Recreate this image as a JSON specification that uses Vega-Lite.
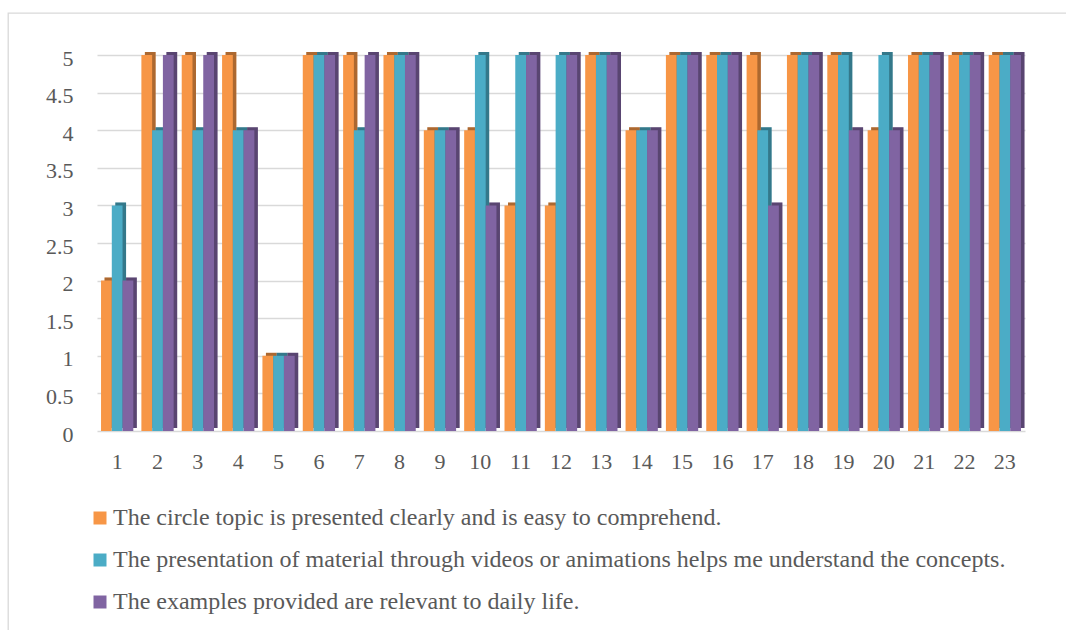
{
  "$schema": "https://vega.github.io/schema/vega-lite/v6.json",
  "width": 1062,
  "height": 621,
  "padding": {"left": 8, "top": 13, "right": -4, "bottom": -4},
  "autosize": {"type": "none"},
  "background": "white",
  "config": {
    "view": {"stroke": "#D9D9D9", "strokeWidth": 1.3}
  },
  "data": {
    "values": [
      {"item": "1", "series": "The circle topic is presented clearly and is easy to comprehend.", "score": 2},
      {"item": "1", "series": "The presentation of material through videos or animations helps me understand the concepts.", "score": 3},
      {"item": "1", "series": "The examples provided are relevant to daily life.", "score": 2},
      {"item": "2", "series": "The circle topic is presented clearly and is easy to comprehend.", "score": 5},
      {"item": "2", "series": "The presentation of material through videos or animations helps me understand the concepts.", "score": 4},
      {"item": "2", "series": "The examples provided are relevant to daily life.", "score": 5},
      {"item": "3", "series": "The circle topic is presented clearly and is easy to comprehend.", "score": 5},
      {"item": "3", "series": "The presentation of material through videos or animations helps me understand the concepts.", "score": 4},
      {"item": "3", "series": "The examples provided are relevant to daily life.", "score": 5},
      {"item": "4", "series": "The circle topic is presented clearly and is easy to comprehend.", "score": 5},
      {"item": "4", "series": "The presentation of material through videos or animations helps me understand the concepts.", "score": 4},
      {"item": "4", "series": "The examples provided are relevant to daily life.", "score": 4},
      {"item": "5", "series": "The circle topic is presented clearly and is easy to comprehend.", "score": 1},
      {"item": "5", "series": "The presentation of material through videos or animations helps me understand the concepts.", "score": 1},
      {"item": "5", "series": "The examples provided are relevant to daily life.", "score": 1},
      {"item": "6", "series": "The circle topic is presented clearly and is easy to comprehend.", "score": 5},
      {"item": "6", "series": "The presentation of material through videos or animations helps me understand the concepts.", "score": 5},
      {"item": "6", "series": "The examples provided are relevant to daily life.", "score": 5},
      {"item": "7", "series": "The circle topic is presented clearly and is easy to comprehend.", "score": 5},
      {"item": "7", "series": "The presentation of material through videos or animations helps me understand the concepts.", "score": 4},
      {"item": "7", "series": "The examples provided are relevant to daily life.", "score": 5},
      {"item": "8", "series": "The circle topic is presented clearly and is easy to comprehend.", "score": 5},
      {"item": "8", "series": "The presentation of material through videos or animations helps me understand the concepts.", "score": 5},
      {"item": "8", "series": "The examples provided are relevant to daily life.", "score": 5},
      {"item": "9", "series": "The circle topic is presented clearly and is easy to comprehend.", "score": 4},
      {"item": "9", "series": "The presentation of material through videos or animations helps me understand the concepts.", "score": 4},
      {"item": "9", "series": "The examples provided are relevant to daily life.", "score": 4},
      {"item": "10", "series": "The circle topic is presented clearly and is easy to comprehend.", "score": 4},
      {"item": "10", "series": "The presentation of material through videos or animations helps me understand the concepts.", "score": 5},
      {"item": "10", "series": "The examples provided are relevant to daily life.", "score": 3},
      {"item": "11", "series": "The circle topic is presented clearly and is easy to comprehend.", "score": 3},
      {"item": "11", "series": "The presentation of material through videos or animations helps me understand the concepts.", "score": 5},
      {"item": "11", "series": "The examples provided are relevant to daily life.", "score": 5},
      {"item": "12", "series": "The circle topic is presented clearly and is easy to comprehend.", "score": 3},
      {"item": "12", "series": "The presentation of material through videos or animations helps me understand the concepts.", "score": 5},
      {"item": "12", "series": "The examples provided are relevant to daily life.", "score": 5},
      {"item": "13", "series": "The circle topic is presented clearly and is easy to comprehend.", "score": 5},
      {"item": "13", "series": "The presentation of material through videos or animations helps me understand the concepts.", "score": 5},
      {"item": "13", "series": "The examples provided are relevant to daily life.", "score": 5},
      {"item": "14", "series": "The circle topic is presented clearly and is easy to comprehend.", "score": 4},
      {"item": "14", "series": "The presentation of material through videos or animations helps me understand the concepts.", "score": 4},
      {"item": "14", "series": "The examples provided are relevant to daily life.", "score": 4},
      {"item": "15", "series": "The circle topic is presented clearly and is easy to comprehend.", "score": 5},
      {"item": "15", "series": "The presentation of material through videos or animations helps me understand the concepts.", "score": 5},
      {"item": "15", "series": "The examples provided are relevant to daily life.", "score": 5},
      {"item": "16", "series": "The circle topic is presented clearly and is easy to comprehend.", "score": 5},
      {"item": "16", "series": "The presentation of material through videos or animations helps me understand the concepts.", "score": 5},
      {"item": "16", "series": "The examples provided are relevant to daily life.", "score": 5},
      {"item": "17", "series": "The circle topic is presented clearly and is easy to comprehend.", "score": 5},
      {"item": "17", "series": "The presentation of material through videos or animations helps me understand the concepts.", "score": 4},
      {"item": "17", "series": "The examples provided are relevant to daily life.", "score": 3},
      {"item": "18", "series": "The circle topic is presented clearly and is easy to comprehend.", "score": 5},
      {"item": "18", "series": "The presentation of material through videos or animations helps me understand the concepts.", "score": 5},
      {"item": "18", "series": "The examples provided are relevant to daily life.", "score": 5},
      {"item": "19", "series": "The circle topic is presented clearly and is easy to comprehend.", "score": 5},
      {"item": "19", "series": "The presentation of material through videos or animations helps me understand the concepts.", "score": 5},
      {"item": "19", "series": "The examples provided are relevant to daily life.", "score": 4},
      {"item": "20", "series": "The circle topic is presented clearly and is easy to comprehend.", "score": 4},
      {"item": "20", "series": "The presentation of material through videos or animations helps me understand the concepts.", "score": 5},
      {"item": "20", "series": "The examples provided are relevant to daily life.", "score": 4},
      {"item": "21", "series": "The circle topic is presented clearly and is easy to comprehend.", "score": 5},
      {"item": "21", "series": "The presentation of material through videos or animations helps me understand the concepts.", "score": 5},
      {"item": "21", "series": "The examples provided are relevant to daily life.", "score": 5},
      {"item": "22", "series": "The circle topic is presented clearly and is easy to comprehend.", "score": 5},
      {"item": "22", "series": "The presentation of material through videos or animations helps me understand the concepts.", "score": 5},
      {"item": "22", "series": "The examples provided are relevant to daily life.", "score": 5},
      {"item": "23", "series": "The circle topic is presented clearly and is easy to comprehend.", "score": 5},
      {"item": "23", "series": "The presentation of material through videos or animations helps me understand the concepts.", "score": 5},
      {"item": "23", "series": "The examples provided are relevant to daily life.", "score": 5}
    ]
  },
  "encoding": {
    "x": {
      "field": "item",
      "type": "nominal",
      "sort": null,
      "title": null,
      "scale": {"range": [89, 1017], "paddingInner": 0.2, "paddingOuter": 0.1},
      "axis": {
        "labelAngle": 0,
        "labelFont": "Liberation Serif",
        "labelColor": "#595959",
        "labelFontSize": 22,
        "domain": false,
        "ticks": false,
        "tickSize": 0,
        "labelPadding": 3,
        "offset": -186,
        "grid": false
      }
    },
    "y": {
      "field": "score",
      "type": "quantitative",
      "title": null,
      "scale": {"domain": [0, 5], "range": [418, 42], "nice": false, "zero": true},
      "axis": {
        "values": [0, 0.5, 1, 1.5, 2, 2.5, 3, 3.5, 4, 4.5, 5],
        "format": "~g",
        "labelFont": "Liberation Serif",
        "labelColor": "#595959",
        "labelFontSize": 22,
        "labelOffset": 3,
        "domain": false,
        "ticks": false,
        "tickSize": 0,
        "labelPadding": 6,
        "offset": -71,
        "grid": true,
        "gridColor": "#D9D9D9",
        "gridWidth": 1.5
      }
    },
    "color": {
      "field": "series",
      "type": "nominal",
      "title": null,
      "scale": {
        "domain": [
          "The circle topic is presented clearly and is easy to comprehend.",
          "The presentation of material through videos or animations helps me understand the concepts.",
          "The examples provided are relevant to daily life."
        ],
        "range": ["#F79646", "#4BACC6", "#8064A2"]
      },
      "legend": {
        "orient": "none",
        "legendX": 80,
        "legendY": 493,
        "direction": "vertical",
        "symbolType": "square",
        "symbolSize": 169,
        "symbolStrokeWidth": 0,
        "labelFont": "Liberation Serif",
        "labelColor": "#595959",
        "labelFontSize": 24,
        "labelLimit": 1200,
        "labelOffset": 1,
        "rowPadding": 18
      }
    }
  },
  "layer": [
    {
      "mark": {"type": "bar", "yOffset": -3, "y2Offset": -3},
      "encoding": {
        "xOffset": {
          "field": "series",
          "type": "nominal",
          "sort": [
            "The circle topic is presented clearly and is easy to comprehend.",
            "The presentation of material through videos or animations helps me understand the concepts.",
            "The examples provided are relevant to daily life."
          ],
          "scale": {"range": [3.5, 35.8], "paddingInner": 0, "paddingOuter": 0}
        }
      }
    },
    {
      "mark": {"type": "bar", "yOffset": -3, "y2Offset": -3, "opacity": 0.3},
      "encoding": {
        "color": {"value": "black"},
        "xOffset": {
          "field": "series",
          "type": "nominal",
          "sort": [
            "The circle topic is presented clearly and is easy to comprehend.",
            "The presentation of material through videos or animations helps me understand the concepts.",
            "The examples provided are relevant to daily life."
          ],
          "scale": {"range": [3.5, 35.8], "paddingInner": 0, "paddingOuter": 0}
        }
      }
    },
    {
      "layer": [
        {
          "mark": {"type": "bar"},
          "encoding": {
            "xOffset": {
              "field": "series",
              "type": "nominal",
              "sort": [
                "The circle topic is presented clearly and is easy to comprehend.",
                "The presentation of material through videos or animations helps me understand the concepts.",
                "The examples provided are relevant to daily life."
              ],
              "scale": {"paddingInner": 0, "paddingOuter": 0}
            }
          }
        }
      ]
    }
  ],
  "resolve": {"scale": {"xOffset": "independent"}}
}
